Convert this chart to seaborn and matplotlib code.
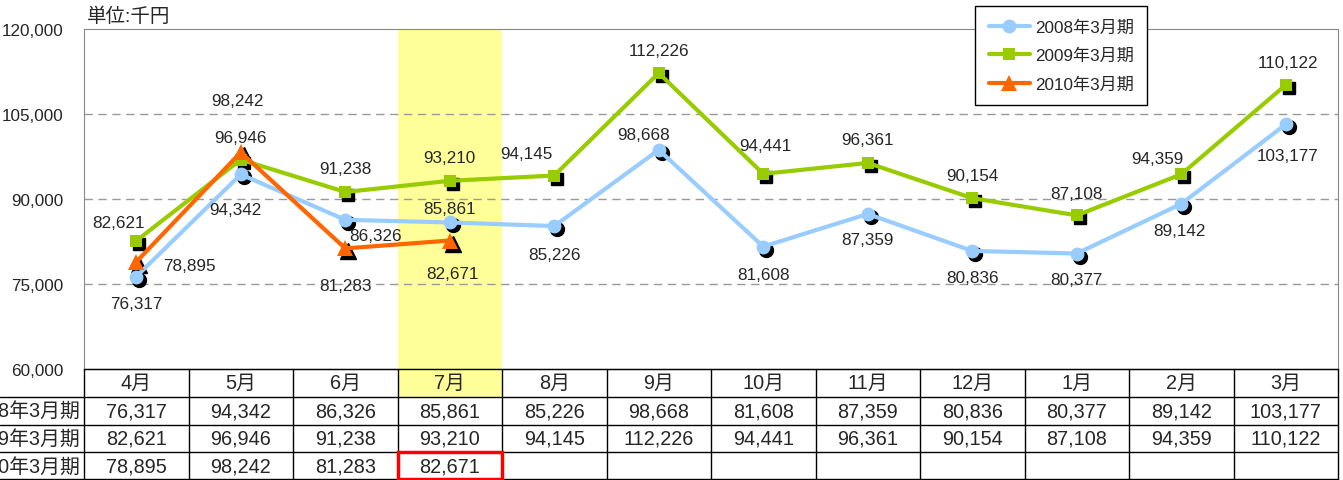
import matplotlib
matplotlib.use("Agg")
import matplotlib.pyplot as plt
import matplotlib.transforms as mtransforms
from matplotlib.patches import Rectangle
import seaborn as sns
import pandas as pd

months = ["4月", "5月", "6月", "7月", "8月", "9月", "10月", "11月", "12月", "1月", "2月", "3月"]
series_names = ["2008年3月期", "2009年3月期", "2010年3月期"]
sales_2008 = [76317, 94342, 86326, 85861, 85226, 98668, 81608, 87359, 80836, 80377, 89142, 103177]
sales_2009 = [82621, 96946, 91238, 93210, 94145, 112226, 94441, 96361, 90154, 87108, 94359, 110122]
sales_2010 = [78895, 98242, 81283, 82671]
all_sales = [sales_2008, sales_2009, sales_2010]

colors = ["#99CCFF", "#99CC00", "#FF6600"]
markers = ["o", "s", "^"]
msizes = [10, 9, 11]

# label offsets in pixels (dx, dy) for each point
label_offsets = [
    [(0, -27), (-5, -35), (30, -16), (0, 14), (0, -28), (-15, 15), (0, -28), (0, -26), (0, -27), (0, -26), (-2, -27), (2, -31)],
    [(-18, 18), (0, 22), (0, 23), (0, 23), (-28, 22), (0, 23), (2, 28), (0, 23), (0, 23), (0, 22), (-24, 16), (2, 22)],
    [(53, -4), (-3, 52), (0, -37), (3, -33)],
]

W, H = 1343, 481
FS = 12.3
TFS = 14.3
sns.set_style("white")
plt.rcParams['font.family'] = ['Liberation Sans', 'Noto Sans CJK JP', 'DejaVu Sans']

fig = plt.figure(figsize=(W / 100, H / 100), dpi=100)
ax = fig.add_axes([84 / W, 1 - 370 / H, 1254 / W, 340 / H])

ax.axvspan(2.5, 3.5, color="#FFFF99", zorder=0, lw=0)

shadow = mtransforms.offset_copy(ax.transData, fig=fig, x=3, y=-3, units="dots")
for name, vals, c, m, ms, offs in zip(series_names, all_sales, colors, markers, msizes, label_offsets):
    df = pd.DataFrame({"x": range(len(vals)), "y": vals})
    ax.plot(df["x"], df["y"], linestyle="", marker=m, markersize=ms, color="black",
            transform=shadow, zorder=2.5)
    sns.lineplot(data=df, x="x", y="y", ax=ax, color=c, lw=3, marker=m, markersize=ms,
                 markeredgewidth=0, label=name, zorder=3, legend=False)
    for i, v in enumerate(vals):
        ax.annotate(f"{v:,}", (i, v), xytext=offs[i], textcoords="offset pixels",
                    ha="center", va="center", fontsize=FS, zorder=5)

ax.set_xlim(-0.5, 11.5)
ax.set_ylim(60000, 120000)
ax.set_yticks(range(60000, 120001, 15000))
ax.set_yticklabels([f"{t:,}" for t in range(60000, 120001, 15000)], fontsize=FS)
ax.set_xticks([])
ax.set_xlabel("")
ax.set_ylabel("")
ax.tick_params(axis="y", length=0, pad=15)
for y in [75000, 90000, 105000]:
    ax.axhline(y, color="#999999", lw=1, ls=(0, (6, 4)), zorder=1)
for s in ["left", "top", "right"]:
    ax.spines[s].set_color("#888888")
ax.spines["bottom"].set_color("black")

fig.text(87 / W, 1 - 17 / H, "単位:千円", fontsize=14, va="center", ha="left")

handles, labels = ax.get_legend_handles_labels()
fig.legend(handles, labels, loc="upper left", bbox_to_anchor=(975 / W, 1 - 7 / H),
           fontsize=FS, frameon=True, fancybox=False, edgecolor="black", framealpha=1,
           handlelength=2.4, borderaxespad=0, labelspacing=0.75, handletextpad=0.3,
           borderpad=0.8)

# data table under the chart
tax = fig.add_axes([84 / W, 0, 1254 / W, 111 / H])
tax.set_xlim(-0.5, 11.5)
tax.set_ylim(4, 0)
tax.axis("off")
left = -0.5 - 84 / 104.5
tax.add_patch(Rectangle((2.5, 0), 1, 1, facecolor="#FFFF99", lw=0, zorder=0))
tax.plot([-0.5, 11.5], [0, 0], color="black", lw=1, clip_on=False)
for r in [1, 2, 3, 3.98]:
    tax.plot([left, 11.5], [r, r], color="black", lw=1, clip_on=False)
for k in range(13):
    tax.plot([k - 0.5, k - 0.5], [0, 4], color="black", lw=1, clip_on=False)
for i, mth in enumerate(months):
    tax.text(i, 0.5, mth, ha="center", va="center", fontsize=TFS)
for r, (name, vals) in enumerate(zip(series_names, all_sales), start=1):
    tax.text(-0.54, r + 0.5, name, ha="right", va="center", fontsize=TFS, clip_on=False)
    for i, v in enumerate(vals):
        tax.text(i, r + 0.5, f"{v:,}", ha="center", va="center", fontsize=TFS)
tax.add_patch(Rectangle((2.5, 3.0), 1, 0.96, fill=False, edgecolor="#FF0000", lw=2.5,
                        zorder=5, clip_on=False))

fig.savefig("out.png", dpi=100)
